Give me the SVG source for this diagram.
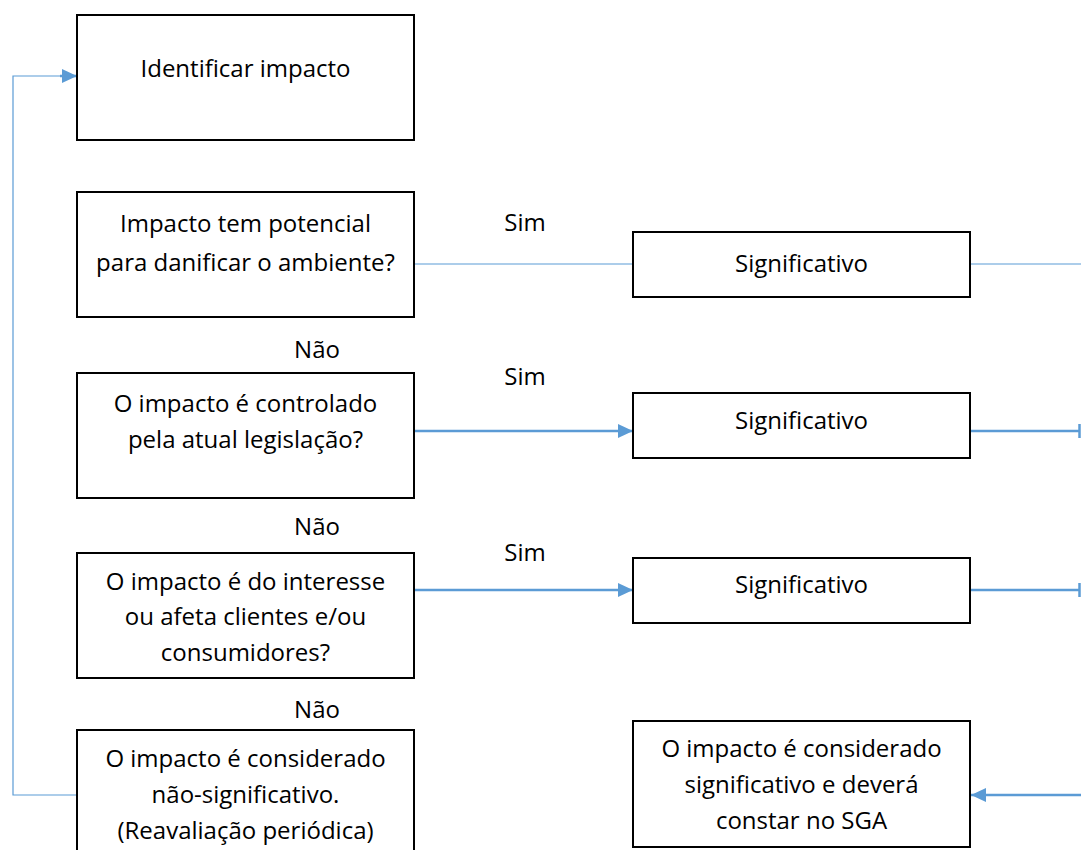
<svg xmlns="http://www.w3.org/2000/svg" width="1081" height="850" viewBox="0 0 1081 850">
<style>
.box{fill:#fff;stroke:#000;stroke-width:2}
.t{font-family:"Open Sans","Liberation Sans",sans-serif;font-size:24px;fill:#000;text-anchor:middle}
.c{fill:none;stroke:#5B9BD5;stroke-width:2.5}
.thin{fill:none;stroke:#5B9BD5;stroke-width:1.2}
</style>
<defs>
<marker id="ah" markerWidth="16" markerHeight="16" refX="15" refY="8" orient="auto" markerUnits="userSpaceOnUse">
<path d="M0,1 L15,8 L0,15 Z" fill="#5B9BD5"/>
</marker>
</defs>
<g id="connectors">
<path class="thin" d="M77,795 H13 V76 H64"/>
<path class="c" d="M60,76 H77" marker-end="url(#ah)"/>
<path class="thin" d="M414,264 H633"/>
<path class="thin" d="M970,264 H1081"/>
<path class="c" d="M414,431 H633" marker-end="url(#ah)"/>
<path class="c" d="M970,431 H1079"/>
<path class="c" d="M1079.5,424 V438"/>
<path class="c" d="M414,590 H633" marker-end="url(#ah)"/>
<path class="c" d="M970,590 H1079"/>
<path class="c" d="M1079.5,583 V597"/>
<path class="c" d="M1081,795 H971" marker-end="url(#ah)"/>
</g>
<g id="n1"><rect class="box" x="77" y="15" width="337" height="125"/><text class="t" x="245.5" y="77">Identificar impacto</text></g>
<g id="n2"><rect class="box" x="77" y="192" width="337" height="125"/><text class="t" x="245.5" y="232">Impacto tem potencial</text><text class="t" x="245.5" y="271">para danificar o ambiente?</text></g>
<g id="n3"><rect class="box" x="77" y="373" width="337" height="125"/><text class="t" x="245.5" y="412">O impacto é controlado</text><text class="t" x="245.5" y="448">pela atual legislação?</text></g>
<g id="n4"><rect class="box" x="77" y="553" width="337" height="125"/><text class="t" x="245.5" y="590">O impacto é do interesse</text><text class="t" x="245.5" y="625">ou afeta clientes e/ou</text><text class="t" x="245.5" y="661">consumidores?</text></g>
<g id="n5"><rect class="box" x="77" y="730" width="337" height="130"/><text class="t" x="245.5" y="767">O impacto é considerado</text><text class="t" x="245.5" y="803">não-significativo.</text><text class="t" x="245.5" y="839">(Reavaliação periódica)</text></g>
<g id="s1"><rect class="box" x="633" y="232" width="337" height="65"/><text class="t" x="801.5" y="272">Significativo</text></g>
<g id="s2"><rect class="box" x="633" y="393" width="337" height="65"/><text class="t" x="801.5" y="429">Significativo</text></g>
<g id="s3"><rect class="box" x="633" y="558" width="337" height="65"/><text class="t" x="801.5" y="593">Significativo</text></g>
<g id="s4"><rect class="box" x="633" y="721" width="337" height="126"/><text class="t" x="801.5" y="757">O impacto é considerado</text><text class="t" x="801.5" y="793">significativo e deverá</text><text class="t" x="801.5" y="829">constar no SGA</text></g>
<g id="labels">
<text class="t" x="525" y="231">Sim</text>
<text class="t" x="525" y="385">Sim</text>
<text class="t" x="525" y="561">Sim</text>
<text class="t" x="317" y="358">Não</text>
<text class="t" x="317" y="535">Não</text>
<text class="t" x="317" y="718">Não</text>
</g>
</svg>
